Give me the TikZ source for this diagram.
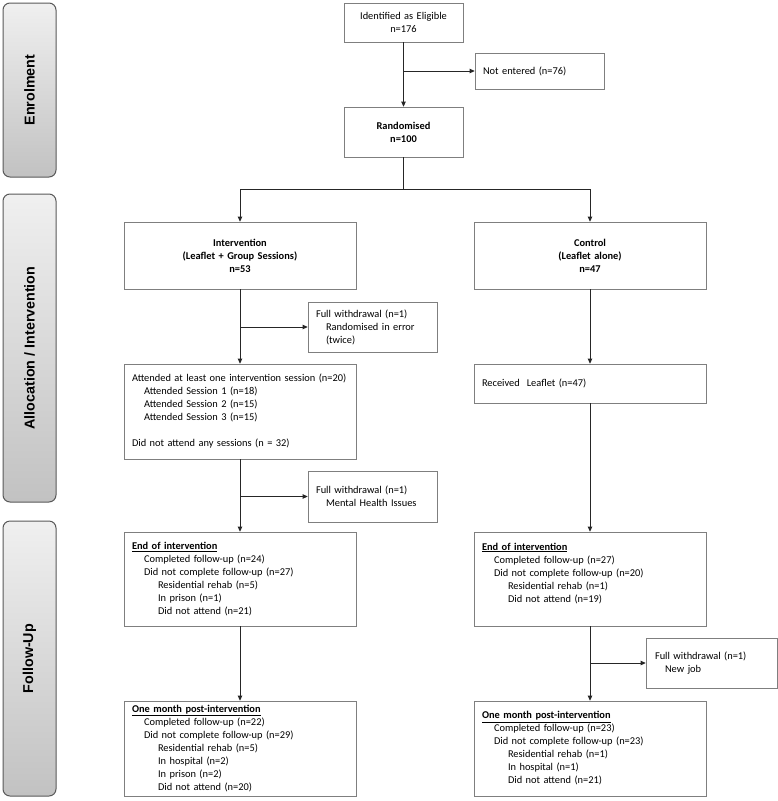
\documentclass[tikz,border=0pt]{standalone}
\usepackage{fontspec}
\setmainfont{Carlito}
\newfontfamily\phasefont{Liberation Sans}
\usetikzlibrary{arrows.meta, calc}
\definecolor{boxline}{HTML}{7F7F7F}
\definecolor{linkline}{HTML}{262626}
\definecolor{phaseline}{HTML}{595959}
\newcommand{\boxfont}{\fontsize{10.4pt}{13pt}\selectfont}
\tikzset{
	tri/.tip={Triangle[length=5pt, width=4.5pt]},
	link/.style={draw=linkline, line width=0.9pt},
	% 1. Plain box (text padding on the left)
	box/.style={draw=boxline, line width=0.7pt, inner xsep=8pt, inner ysep=0pt, font=\boxfont},
	%
	% 2. Boxes with 2 arguments: text width and box height
	midbox/.style 2 args={box, align=center, text width=#1, minimum height=#2},
	listbox/.style 2 args={box, align=left, text width=#1, minimum height=#2},
	bold/.style={font=\boxfont\bfseries},
	%
	% 3. Grey phase bars on the left
	phase/.style={draw=phaseline, line width=1pt, rounded corners=7pt,
		top color=gray!12, bottom color=gray!48, minimum width=53pt,
		minimum height=#1, inner sep=0pt,
		font=\phasefont\bfseries\fontsize{14.3pt}{16pt}\selectfont}
}
\newcommand{\ind}{\hspace*{12pt}}
\newcommand{\indd}{\hspace*{26pt}}

\begin{document}
\begin{tikzpicture}[x=1pt, y=-1pt]
		\useasboundingbox (0,0) rectangle (778,801);
		
		% Phases
		\node[phase=174pt] (enrol) at (29.5,90) {\rotatebox{90}{Enrolment}};
		\node[phase=308pt] (alloc) at (29.5,348) {\rotatebox{90}{Allocation / Intervention}};
		\node[phase=275pt] (follow) at (29.5,658.5) {\rotatebox{90}{Follow-Up}};
		
		% Enrolment
		\node[midbox={103pt}{39pt}] (elig) at (403.5,22.5) {Identified as Eligible\\n=176};
		\node[listbox={113pt}{36pt}] (notent) at (539.5,71) {Not entered (n=76)};
		\node[midbox={103pt}{50pt}, bold] (rand) at (403.5,132) {Randomised\\n=100};
		\coordinate (split) at (403.5,189);
		
		% Allocation
		\node[midbox={216pt}{67pt}, bold] (interv) at (240,255.5) {Intervention\\(Leaflet + Group Sessions)\\n=53};
		\node[midbox={216pt}{67pt}, bold] (control) at (590,255.5) {Control\\(Leaflet alone)\\n=47};
		\node[listbox={113pt}{50pt}] (wd1) at (372.5,327) {Full withdrawal (n=1)\\\hspace*{10pt}Randomised in error\\\hspace*{10pt}(twice)};
		\node[listbox={216pt}{95pt}] (attended) at (240,411.5) {Attended at least one intervention session (n=20)\\
			\ind Attended Session 1 (n=18)\\
			\ind Attended Session 2 (n=15)\\
			\ind Attended Session 3 (n=15)\\[13pt]
			Did not attend any sessions (n = 32)};
		\node[listbox={216pt}{39pt}] (received) at (590,383.5) {Received\ \ Leaflet (n=47)};
		\node[listbox={113pt}{51pt}] (wd2) at (372.5,496.5) {Full withdrawal (n=1)\\\hspace*{10pt}Mental Health Issues};
		
		% Follow-up
		\node[listbox={216pt}{94pt}] (endL) at (240,579) {\underline{\textbf{End of intervention}}\\
			\ind Completed follow-up (n=24)\\
			\ind Did not complete follow-up (n=27)\\
			\indd Residential rehab (n=5)\\
			\indd In prison (n=1)\\
			\indd Did not attend (n=21)};
		\node[listbox={216pt}{94pt}] (endR) at (590,579) {\underline{\textbf{End of intervention}}\\
			\ind Completed follow-up (n=27)\\
			\ind Did not complete follow-up (n=20)\\
			\indd Residential rehab (n=1)\\
			\indd Did not attend (n=19)\\ \mbox{}};
		\node[listbox={113pt}{50pt}, inner xsep=9pt] (wd3) at (711.5,663) {Full withdrawal (n=1)\\\hspace*{10pt}New job};
		\node[listbox={216pt}{95pt}] (oneL) at (240,748.5) {\underline{\textbf{One month post-intervention}}\\
			\ind Completed follow-up (n=22)\\
			\ind Did not complete follow-up (n=29)\\
			\indd Residential rehab (n=5)\\
			\indd In hospital (n=2)\\
			\indd In prison (n=2)\\
			\indd Did not attend (n=20)};
		\node[listbox={216pt}{95pt}] (oneR) at (590,748.5) {\underline{\textbf{One month post-intervention}}\\
			\ind Completed follow-up (n=23)\\
			\ind Did not complete follow-up (n=23)\\
			\indd Residential rehab (n=1)\\
			\indd In hospital (n=1)\\
			\indd Did not attend (n=21)};
		
		% Connectors
		\draw[link, -tri] (elig) -- (rand);
		\draw[link, -tri] (elig.south |- notent.west) -- (notent);
		\draw[link] (rand) -- (split);
		\draw[link, -tri] (split) -| (interv);
		\draw[link, -tri] (split) -| (control);
		\draw[link, -tri] (interv) -- (attended);
		\draw[link, -tri] (interv.south |- wd1.west) -- (wd1);
		\draw[link, -tri] (attended) -- (endL);
		\draw[link, -tri] (attended.south |- wd2.west) -- (wd2);
		\draw[link, -tri] (endL) -- (oneL);
		\draw[link, -tri] (control) -- (received);
		\draw[link, -tri] (received) -- (endR);
		\draw[link, -tri] (endR) -- (oneR);
		\draw[link, -tri] (endR.south |- wd3.west) -- (wd3);
	\end{tikzpicture}
\end{document}
